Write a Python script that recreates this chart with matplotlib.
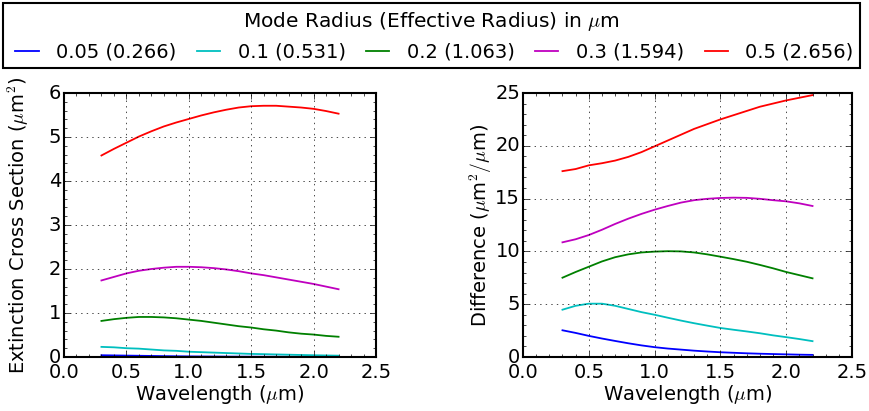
import matplotlib
matplotlib.use('Agg')
import matplotlib.pyplot as plt
from matplotlib.ticker import MultipleLocator

plt.style.use('classic')
plt.rcParams['figure.facecolor'] = 'white'
plt.rcParams['savefig.facecolor'] = 'white'
plt.rcParams['font.size'] = 14
plt.rcParams['ytick.major.pad'] = 2
plt.rcParams['ytick.minor.pad'] = 2

# wavelength in micron
wl = [0.3, 0.4, 0.5, 0.6, 0.7, 0.8, 0.9, 1.0, 1.1, 1.2, 1.3, 1.4, 1.5, 1.6, 1.7, 1.8, 1.9, 2.0, 2.1, 2.2]

labels = ['0.05 (0.266)', '0.1 (0.531)', '0.2 (1.063)', '0.3 (1.594)', '0.5 (2.656)']
colors = ['b', 'c', 'g', 'm', 'r']

# extinction cross section (um^2)
ext_005 = [0.040, 0.036, 0.032, 0.028, 0.024, 0.020, 0.017, 0.014, 0.012, 0.011, 0.009, 0.008, 0.007, 0.006, 0.006, 0.005, 0.005, 0.004, 0.004, 0.004]
ext_01 = [0.23, 0.22, 0.20, 0.19, 0.17, 0.15, 0.14, 0.12, 0.11, 0.10, 0.09, 0.08, 0.07, 0.065, 0.058, 0.052, 0.046, 0.04, 0.035, 0.03]
ext_02 = [0.82, 0.86, 0.89, 0.91, 0.91, 0.90, 0.88, 0.85, 0.82, 0.78, 0.74, 0.70, 0.67, 0.63, 0.60, 0.56, 0.53, 0.51, 0.48, 0.46]
ext_03 = [1.74, 1.82, 1.90, 1.96, 2.00, 2.03, 2.05, 2.05, 2.04, 2.02, 1.99, 1.95, 1.90, 1.86, 1.81, 1.76, 1.71, 1.66, 1.60, 1.54]
ext_05 = [4.58, 4.73, 4.87, 5.01, 5.13, 5.24, 5.33, 5.41, 5.49, 5.56, 5.62, 5.67, 5.70, 5.71, 5.71, 5.69, 5.67, 5.64, 5.59, 5.53]

# difference (um^2/um)
dif_005 = [2.53, 2.28, 2.00, 1.75, 1.52, 1.30, 1.10, 0.93, 0.80, 0.70, 0.60, 0.52, 0.45, 0.40, 0.35, 0.31, 0.28, 0.25, 0.22, 0.20]
dif_01 = [4.48, 4.85, 5.05, 5.05, 4.85, 4.55, 4.25, 4.00, 3.72, 3.45, 3.20, 2.97, 2.75, 2.58, 2.42, 2.25, 2.05, 1.88, 1.70, 1.50]
dif_02 = [7.51, 8.05, 8.55, 9.05, 9.45, 9.72, 9.90, 9.98, 10.02, 10.00, 9.90, 9.72, 9.50, 9.27, 9.02, 8.72, 8.40, 8.05, 7.75, 7.45]
dif_03 = [10.86, 11.15, 11.55, 12.05, 12.60, 13.10, 13.55, 13.95, 14.30, 14.62, 14.85, 14.98, 15.06, 15.09, 15.07, 14.98, 14.85, 14.74, 14.55, 14.30]
dif_05 = [17.60, 17.80, 18.15, 18.35, 18.60, 18.95, 19.40, 19.95, 20.50, 21.05, 21.60, 22.05, 22.50, 22.90, 23.30, 23.70, 24.00, 24.30, 24.55, 24.80]

ext = [ext_005, ext_01, ext_02, ext_03, ext_05]
dif = [dif_005, dif_01, dif_02, dif_03, dif_05]

fig = plt.figure(figsize=(8.7, 4.11), dpi=100)
ax1 = fig.add_axes([64 / 870, 1 - 357 / 411, 312 / 870, 264 / 411])
ax2 = fig.add_axes([523 / 870, 1 - 357 / 411, 329 / 870, 264 / 411])

lines = []
for y, c, lab in zip(ext, colors, labels):
    l, = ax1.plot(wl, y, color=c, lw=1.3, label=lab)
    lines.append(l)
for y, c in zip(dif, colors):
    ax2.plot(wl, y, color=c, lw=1.3)

ax1.set_xlim(0, 2.5)
ax1.set_ylim(0, 6)
ax1.yaxis.set_major_locator(MultipleLocator(1))
ax1.yaxis.set_minor_locator(MultipleLocator(0.2))
ax1.set_ylabel('Extinction Cross Section ($\\mu$m$^2$)', labelpad=13)

ax2.set_xlim(0, 2.5)
ax2.set_ylim(0, 25)
ax2.yaxis.set_major_locator(MultipleLocator(5))
ax2.yaxis.set_minor_locator(MultipleLocator(1))
ax2.set_ylabel('Difference ($\\mu$m$^2/\\mu$m)', labelpad=1)

for ax in (ax1, ax2):
    ax.xaxis.set_major_locator(MultipleLocator(0.5))
    ax.xaxis.set_minor_locator(MultipleLocator(0.1))
    ax.set_xlabel('Wavelength ($\\mu$m)', labelpad=1)
    ax.grid(True)
    for s in ax.spines.values():
        s.set_linewidth(1.5)

leg = fig.legend(lines, labels, loc='upper center', ncol=5, bbox_to_anchor=(0.496, 1.0),
                 title='Mode Radius (Effective Radius) in $\\mu$m', fontsize=14,
                 handlelength=1.8, handletextpad=0.6, columnspacing=0.75,
                 borderaxespad=0.15, borderpad=0.35)
leg.get_title().set_fontsize(14.5)
leg.get_frame().set_linewidth(1.5)

fig.savefig('out.png', dpi=100)
